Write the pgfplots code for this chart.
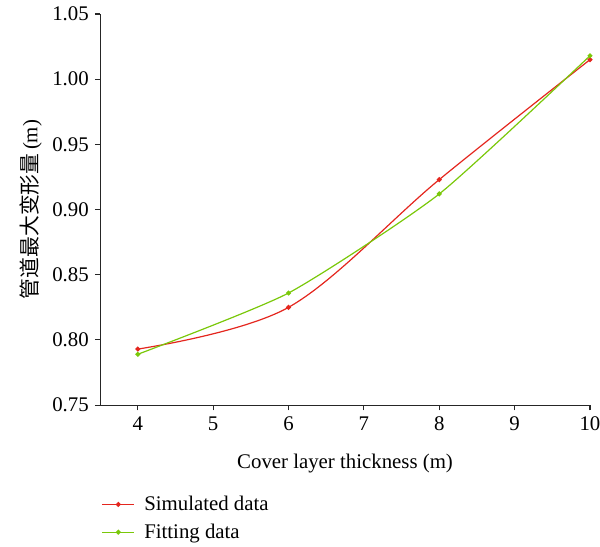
\documentclass[border=0pt]{standalone}
\usepackage{fontspec}
\setmainfont{Liberation Serif}
\newfontfamily\cjk{Noto Sans CJK SC}
\usepackage{pgfplots}
\pgfplotsset{compat=1.18}
\usetikzlibrary{calc}
\definecolor{simred}{RGB}{228,38,30}
\definecolor{fitgreen}{RGB}{122,200,10}

\begin{document}
\begin{tikzpicture}
\begin{axis}[
  width=367pt, height=293pt,
  scale only axis,
  xmin=3.5, xmax=10,
  ymin=0.75, ymax=1.05,
  xtick={4,5,6,7,8,9,10},
  ytick={0.75,0.80,0.85,0.90,0.95,1.00,1.05},
  yticklabel style={/pgf/number format/fixed,/pgf/number format/fixed zerofill,/pgf/number format/precision=2},
  /pgf/number format/assume math mode=true,
  ticklabel style={font=\fontsize{15.6}{18.7}\selectfont},
  xticklabel style={yshift=-1pt},
  yticklabel style={xshift=-1pt},
  axis lines=left,
  axis line style={-, line width=0.8pt, black!85},
  tick style={black!85, line width=0.8pt},
  tick align=outside,
  major tick length=4pt,
  xlabel={Cover layer thickness (m)},
  ylabel={{\cjk 管道最大变形量}\,(m)},
  every axis x label/.style={at={(axis description cs:0.5,0)}, anchor=center,
    yshift=-43.5pt, font=\fontsize{15.6}{18.7}\selectfont},
  every axis y label/.style={at={(axis description cs:0,0.5)}, anchor=center,
    xshift=-52pt, rotate=90, font=\fontsize{15.6}{18.7}\selectfont},
  legend style={draw=none, at={(0,0)}, anchor=north west, yshift=-64pt, xshift=-2pt,
    font=\fontsize{15.6}{18.7}\selectfont, row sep=4.5pt, legend cell align=left, fill=none,
    /tikz/every odd column/.style={column sep=5pt}},
  legend image code/.code={
    \draw[#1,mark=none] (0pt,0pt) -- (24pt,0pt);
    \draw[#1,only marks] plot coordinates {(12pt,0pt)};
  },
  clip=false,
]
\coordinate (bl) at (rel axis cs:0,0);
\coordinate (tr) at (rel axis cs:1,1);
\addplot[simred, line width=0.9pt, smooth, tension=0.55, mark=*, mark size=1.4pt]
  coordinates {(4,0.793) (6,0.825) (8,0.923) (10,1.015)};
\addlegendentry{Simulated data}
\addplot[fitgreen, line width=0.9pt, smooth, tension=0.35, mark=*, mark size=1.4pt]
  coordinates {(4,0.789) (6,0.836) (8,0.912) (10,1.018)};
\addlegendentry{Fitting data}
\end{axis}
\pgfresetboundingbox
\path[use as bounding box] ($(bl)+(-75pt,-106pt)$) rectangle ($(tr)+(7.5pt,10.5pt)$);
\end{tikzpicture}
\end{document}
